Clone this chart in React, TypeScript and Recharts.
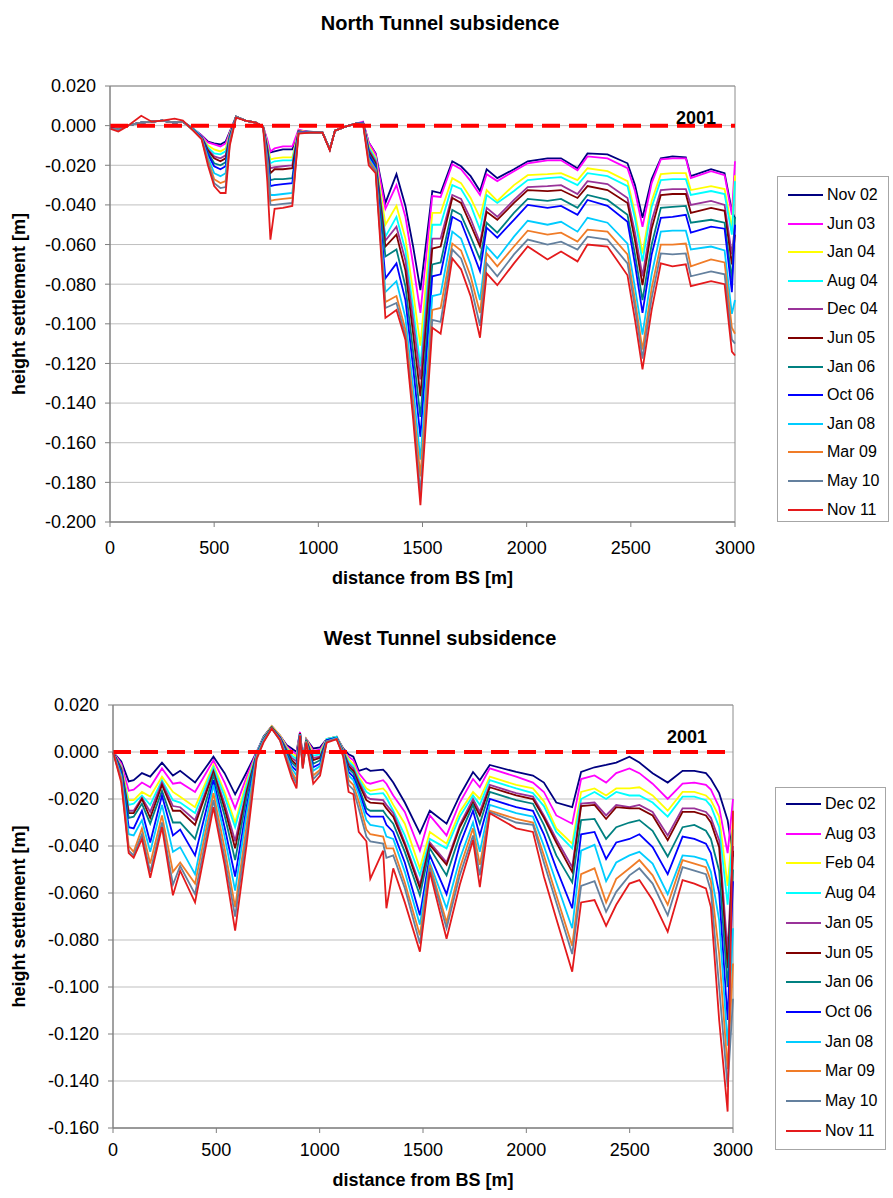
import {
  LineChart, Line, XAxis, YAxis, CartesianGrid, ReferenceLine, ReferenceArea,
} from "recharts";

const FONT = '"Liberation Sans", Arial, sans-serif';

// distance from BS [m]
const X_TICKS = [0, 500, 1000, 1500, 2000, 2500, 3000];
const NORTH_Y_TICKS = [0.02, 0, -0.02, -0.04, -0.06, -0.08, -0.1, -0.12, -0.14, -0.16, -0.18, -0.2];
const WEST_Y_TICKS = [0.02, 0, -0.02, -0.04, -0.06, -0.08, -0.1, -0.12, -0.14, -0.16];

const NORTH_DISTANCE = [0, 40, 80, 150, 200, 250, 310, 350, 400, 440, 470, 500, 530, 555, 575, 605, 650, 700, 735, 755, 770, 790, 830, 875, 905, 960, 1020, 1055, 1080, 1130, 1180, 1215, 1242, 1275, 1322, 1375, 1418, 1455, 1490, 1547, 1587, 1643, 1685, 1731, 1776, 1808, 1859, 1939, 2005, 2100, 2165, 2244, 2292, 2388, 2484, 2520, 2556, 2600, 2644, 2700, 2764, 2788, 2885, 2950, 2985, 3000];

// north tunnel settlement, mm
const N_NOV02 = [-1, -1.5, 0, 1.5, 2, 2.5, 1.5, 2, -1.5, -5, -8, -9, -9.5, -8, -3, 4.5, 2.5, 1.5, -0.5, -8, -13.5, -13, -12, -12, -2.5, -3, -3.5, -12, -2.5, -0.5, 1, 1.5, -8.5, -14, -39, -24.5, -40.5, -61, -83, -33, -34, -18, -20.5, -25.5, -33, -22, -26.5, -22, -18, -16.5, -16.5, -21.5, -14, -14.5, -19, -30, -46.5, -27, -16.5, -15.5, -16, -25.5, -22, -24, -43, -47];
const N_JUN03 = [-1, -1.5, 0, 1.5, 2, 2.5, 1.5, 2, -1.5, -5, -8.5, -9.5, -10.5, -9, -3.5, 4.5, 2.5, 1.5, -0.5, -7, -13, -11.5, -10.5, -10.5, -2, -3.5, -3.5, -12, -2.5, -0.5, 1, 2, -8.5, -14.5, -42, -30, -46, -70, -94.5, -35.5, -36, -19.5, -22, -28, -35, -24.5, -28, -23, -19, -17.5, -17.5, -22.5, -15.5, -16.5, -21.5, -33, -51, -29, -17, -16.5, -16.5, -26.5, -23, -25, -45, -18];
const N_JAN04 = [-1, -1.5, 0, 1.5, 2, 2.5, 1.5, 2, -1.5, -5.5, -10, -12, -13, -11.5, -4, 4.5, 2.5, 1.5, -0.5, -9, -17, -16.5, -16, -16, -2.5, -3.5, -3.5, -12, -2.5, -0.5, 1, 1.5, -10, -16, -50, -40.5, -57, -84, -111, -44, -44, -26.5, -29, -36.5, -46.5, -32.5, -38, -30, -25, -24.5, -24, -27.5, -21.5, -23, -28, -44, -64.5, -38, -24.5, -24, -24, -32.5, -30.5, -32, -52, -25];
const N_AUG04 = [-1, -2, 0, 1.5, 2, 2.5, 1.5, 2, -1.5, -5.5, -11, -14, -14.5, -13, -4.5, 4.5, 2.5, 1.5, -0.5, -10, -19, -18, -17.5, -17.5, -3, -3.5, -3.5, -12, -2.5, -0.5, 1, 1.5, -11, -17, -56, -46, -63, -92, -121.5, -50, -50, -30, -32, -40, -52.5, -35, -39, -33, -27.5, -26.5, -26, -30, -24, -25.5, -30.5, -47, -68.5, -41, -27.5, -27, -27, -35, -33, -34.5, -55, -28];
const N_DEC04 = [-1, -1.5, 0, 1.5, 2, 2.5, 1.5, 2, -2, -5.5, -12, -15.5, -16.5, -15, -5, 4.5, 2.5, 1.5, -0.5, -11, -21.5, -21, -20.5, -20, -3, -3.5, -3.5, -12, -2.5, -0.5, 1, 1.5, -12, -18, -58, -51, -68, -98, -128, -57, -57, -35, -37, -47, -59, -41.5, -46, -37.5, -31, -30.5, -30, -34.5, -28, -29.5, -36.5, -54, -76, -48, -32.5, -32, -32, -40, -38, -40, -65, -50];
const N_JUN05 = [-1, -2, 0, 1.5, 2, 2.5, 1.5, 2, -2, -6, -12.5, -16.5, -18, -16.5, -5.5, 4.5, 2.5, 1.5, -0.5, -12, -24, -22, -22, -21.5, -3, -3.5, -3.5, -12, -2.5, -0.5, 1, 1.5, -13, -19, -61, -55, -73, -105, -136.5, -62, -61, -36.5, -39, -50, -61, -43.5, -47.5, -39, -32.5, -33, -32.5, -36.5, -30.5, -32.5, -39, -58, -80.5, -52, -35, -34.5, -34.5, -44, -41.5, -43, -70, -55];
const N_JAN06 = [-1, -2, 0, 1.5, 2, 2.5, 1.5, 2, -2, -6, -13.5, -19, -20, -18.5, -6, 4.5, 2.5, 1.5, -1, -14, -27.5, -27, -27, -26.5, -3.5, -3.5, -3.5, -12, -2.5, -0.5, 1, 1.5, -14, -20, -66, -62.5, -81, -114, -147, -70, -69, -42.5, -45, -56, -67.5, -49, -54, -44, -37, -38, -37, -41.5, -35, -37.5, -45, -65, -88, -60, -41.5, -41, -40.5, -49, -47.5, -49, -78, -46];
const N_OCT06 = [-1, -2, 0, 1.5, 2, 2.5, 1.5, 2, -2, -6, -14.5, -20.5, -22, -20.5, -6.5, 4.5, 2.5, 1.5, -1, -15, -30.5, -30, -29.5, -29, -3, -3.5, -3.5, -12, -2.5, -0.5, 1, 1.5, -15, -21, -77, -69.5, -88, -122, -157, -76, -75, -46, -48.5, -61, -73.5, -51.5, -56.5, -47.5, -40, -41.5, -40.5, -45, -37.5, -40.5, -48.5, -70, -94.5, -65, -46.5, -46, -45, -54, -51, -52, -84, -50];
const N_JAN08 = [-1.5, -2, 0, 1.5, 2, 2.5, 1.5, 2, -2, -6.5, -16, -24, -25.5, -24, -7, 4.5, 2.5, 1.5, -1, -17, -35, -35, -34.5, -34, -3.5, -3.5, -3.5, -12, -2.5, -0.5, 1, 1, -16.5, -22, -84, -78.5, -97, -132, -168.5, -86, -85, -53.5, -57, -70, -88, -61, -67, -56, -48, -50, -48.5, -53.5, -46.5, -49, -59.5, -82, -105.5, -75, -53.5, -53, -53, -62.5, -61, -63, -95, -88];
const N_MAR09 = [-1.5, -2, 0, 1.5, 2, 2.5, 1.5, 2, -2.5, -6.5, -17.5, -27, -29, -28, -8, 4.5, 2.5, 1.5, -1, -18, -38, -37.5, -37, -36.5, -3.5, -3.5, -3.5, -12, -2.5, -0.5, 1, 1, -17.5, -22.5, -89, -86, -103, -139, -177, -93, -92, -59.5, -63, -76, -94.5, -64.5, -71, -61, -53, -55, -54, -58.5, -52.5, -53.5, -65, -88, -113, -82, -60, -60, -59.5, -71, -67.5, -69, -102, -105];
const N_MAY10 = [-1.5, -2, 0, 1.5, 2, 2.5, 1.5, 2, -2.5, -6.5, -18.5, -29, -31.5, -31, -9, 4.5, 2.5, 1.5, -1, -19, -40, -40, -39.5, -39, -3.5, -3.5, -3.5, -12, -2.5, -0.5, 1, 1, -18.5, -23, -92, -89.5, -106, -144, -185.5, -98, -99, -62.5, -67, -80.5, -101, -69.5, -76, -65, -57.5, -60, -58.5, -62.5, -56, -57.5, -69.5, -92, -117.5, -87, -64.5, -65, -64.5, -76, -73.5, -75, -108, -110];
const N_NOV11 = [-1.5, -3, -0.5, 5, 2, 2.5, 3.5, 2.5, -2.5, -7, -20, -30.5, -34, -34, -10, 4, 2.5, 1.5, -1, -28, -57.5, -42, -41.5, -40.5, -4, -3.5, -3.5, -12.5, -2.5, -0.5, 1, 0.5, -20, -24, -97, -93, -108, -148, -191.5, -102, -105, -67, -72.5, -86, -107, -74.5, -80.5, -69.5, -61, -67.5, -63.5, -68.5, -60, -61, -75.5, -98, -123, -93, -69.5, -71, -70, -81, -78.5, -80, -114, -116];

const WEST_DISTANCE = [0, 40, 76, 100, 140, 180, 237, 290, 325, 397, 486, 540, 591, 647, 695, 728, 768, 808, 840, 865, 888, 905, 918, 935, 969, 1002, 1034, 1082, 1114, 1140, 1163, 1189, 1226, 1245, 1307, 1323, 1356, 1412, 1485, 1533, 1614, 1678, 1742, 1775, 1823, 1951, 2032, 2085, 2145, 2222, 2265, 2330, 2386, 2435, 2499, 2547, 2611, 2684, 2756, 2813, 2869, 2893, 2933, 2974, 3000];

// west tunnel settlement, mm
const W_DEC02 = [0, -4, -12.5, -12, -9, -10.5, -4.5, -10, -8, -13, -2, -9, -18, -8.5, 0, 6.5, 11, 7, 3, 1.5, 0, 8.5, -2.5, 5.5, 1.5, 2, 5.5, 6.5, 1.5, -1, -2, -8, -7, -8, -7.5, -9, -13, -21.5, -34.5, -25, -30.5, -18.5, -8.5, -12, -5.5, -8.5, -10, -13, -21.5, -23.5, -8.5, -6.5, -5.5, -4.5, -2, -4.5, -9, -13, -8, -8, -9, -11.5, -17.5, -29, -44.5];
const W_AUG03 = [0, -5, -16.5, -16, -13, -15, -7, -13.5, -13, -17, -3.5, -13, -24, -10.5, 0, 6, 11, 7, 2.5, 0.5, -1, 8.5, -3, 5.5, 0.5, 1, 5.5, 6.5, 1, -2, -3.5, -9, -13, -13.5, -12, -13.5, -18.5, -25.5, -42, -27, -35.5, -21.5, -11.5, -15, -7, -10.5, -13, -17, -27, -30.5, -11.5, -10, -13, -9, -7, -9, -13.5, -20, -13.5, -13, -14, -16, -23.5, -43, -20];
const W_FEB04 = [0, -6, -20.5, -20.5, -17, -19, -10.5, -17, -19, -23.5, -5.5, -17, -30, -12.5, -0.5, 6, 11, 7, 2, -0.5, -2, 8, -3.5, 5.5, -0.5, 0, 5.5, 6.5, 1, -3, -5, -10.5, -15.5, -16.5, -15.5, -17, -22.5, -30.5, -49.5, -34, -39, -25.5, -17, -20, -10.5, -14, -15.5, -21, -32.5, -39, -17, -15.5, -18.5, -15.5, -15.5, -15, -18.5, -25, -17, -17, -18.5, -20.5, -27.5, -57, -30];
const W_AUG04 = [0, -6.5, -22.5, -22, -18.5, -22.5, -12, -20.5, -21.5, -26, -6.5, -19, -32, -14, -0.5, 6, 10.5, 6.5, 1.5, -1.5, -3, 8, -4, 5, -1.5, -1, 5.5, 6.5, 0.5, -4, -6, -11.5, -17, -18, -17.5, -19.5, -25, -35.5, -52.5, -37, -41, -27.5, -18.5, -22.5, -12, -15.5, -17.5, -23, -34, -41, -20, -17, -20, -17, -18.5, -18.5, -21.5, -27.5, -19, -19, -20.5, -23, -32, -65, -33];
const W_JAN05 = [0, -7, -25, -25, -19.5, -25.5, -13, -23, -23.5, -29, -8, -22, -38, -16, -1, 5.5, 10.5, 6.5, 1, -2.5, -4, 8, -4, 5, -2.5, -2, 5, 6, 0.5, -5, -7, -12.5, -19, -20, -20.5, -22.5, -26, -38.5, -56.5, -38.5, -47, -31, -20, -25.5, -14, -17.5, -19, -27, -37, -49, -22, -21.5, -27, -22.5, -23.5, -22.5, -25.5, -35.5, -24, -24, -25.5, -28, -37.5, -85, -40];
const W_JUN05 = [0, -7.5, -26, -26, -20, -28, -14, -25, -25, -31, -8.5, -24, -41, -17, -1, 5.5, 10.5, 6, 0.5, -3.5, -5.5, 8, -4.5, 5, -3.5, -2.5, 5, 6, 0, -6, -8, -13.5, -20.5, -21.5, -22, -24, -27.5, -39.5, -58, -39.5, -48, -32, -21.5, -27, -15, -18.5, -20, -28, -38.5, -51, -23, -22.5, -28.5, -23.5, -24, -24, -27, -37.5, -25.5, -25.5, -27, -30, -40.5, -92, -42];
const W_JAN06 = [0, -8, -28, -27.5, -22, -30.5, -16.5, -30, -30, -37, -10, -27, -46, -19, -1, 5, 10.5, 6, 0, -4.5, -6.5, 7.5, -5, 5, -5, -3.5, 5, 6, 0, -7, -9, -15, -24, -25, -25, -27, -30.5, -42.5, -61, -41, -52.5, -35.5, -22.5, -30.5, -17, -20.5, -22, -31, -44, -55.5, -29, -28.5, -37, -32, -30, -29, -33.5, -44.5, -32, -31, -33.5, -37, -50.5, -100, -50];
const W_OCT06 = [0, -9, -32, -32.5, -25, -38.5, -18.5, -35.5, -33, -44, -12, -32, -53, -23, -1.5, 5, 10, 6, -1, -6, -8, 7.5, -5.5, 4.5, -6.5, -5, 5, 6, -0.5, -8.5, -10.5, -16.5, -26, -27.5, -27.5, -31, -34, -47, -69.5, -44, -60.5, -39.5, -25, -35.5, -20, -23.5, -25, -35, -49.5, -66.5, -35, -34, -45.5, -38.5, -37, -35, -40.5, -52, -36, -37, -39, -43, -60, -114, -55];
const W_JAN08 = [0, -10, -35, -35.5, -29, -42.5, -22.5, -42.5, -40.5, -52, -14, -36, -59, -26, -1.5, 5, 10, 5.5, -1.5, -7, -10, 7.5, -6, 4.5, -8, -6, 4.5, 6, -0.5, -10, -12, -18, -29, -31, -32, -36, -37, -51, -73.5, -47, -66.5, -45.5, -30, -42.5, -22.5, -26, -27.5, -40, -55.5, -75, -42, -39.5, -55, -47, -44, -42.5, -47.5, -60.5, -44, -44.5, -46, -51, -71.5, -125, -75];
const W_MAR09 = [0, -11, -40, -42.5, -32.5, -47.5, -27, -51, -47, -56, -17.5, -41, -66, -31, -2, 4.5, 10, 5.5, -2.5, -8.5, -12, 7, -6.5, 4.5, -10, -7.5, 4.5, 5.5, -1, -12, -14, -21, -33, -35, -36, -41, -41, -55.5, -78, -48, -72.5, -49.5, -32.5, -48, -25, -28.5, -30, -44, -61, -82.5, -52, -49.5, -64, -54, -49.5, -46, -52.5, -65, -46, -47.5, -49, -55, -86, -135, -90];
const W_MAY10 = [0, -12, -42, -44, -35, -51, -30, -56.5, -48.5, -60.5, -20.5, -45, -70, -35, -2.5, 4.5, 10, 5, -3, -9.5, -13.5, 7, -7, 4, -11.5, -8.5, 4.5, 5.5, -1.5, -14, -16, -24, -36, -38, -39, -45, -44, -58, -81.5, -49.5, -75, -52.5, -35.5, -52.5, -25.5, -30, -31, -47, -64, -86, -57, -55, -68, -59.5, -52.5, -49.5, -56, -69.5, -49, -50.5, -52, -59, -100, -142.5, -105];
const W_NOV11 = [0, -13, -43, -45, -37, -53.5, -32, -61, -50.5, -64, -23.5, -48, -76, -39, -3, 4, 10, 5, -4, -11, -15.5, 7, -7, 4, -13.5, -10, 4, 5.5, -2, -17, -18, -34, -38, -54, -42, -66.5, -49.5, -64, -85, -51, -79.5, -56.5, -37.5, -57.5, -26, -32.5, -34, -53, -71, -93.5, -64, -63, -74, -65, -56, -54.5, -63, -76.5, -54.5, -56, -58, -66, -114, -153, -25];

const COLORS = [
  "#000080", "#FF00FF", "#FFFF00", "#00FFFF", "#993399", "#800000",
  "#008080", "#0000FF", "#00CCFF", "#F07C28", "#64809E", "#E41A1C",
];

type Series = { key: string; name: string; values: number[] };

const NORTH_SERIES: Series[] = [
  { key: "s1", name: "Nov 02", values: N_NOV02 },
  { key: "s2", name: "Jun 03", values: N_JUN03 },
  { key: "s3", name: "Jan 04", values: N_JAN04 },
  { key: "s4", name: "Aug 04", values: N_AUG04 },
  { key: "s5", name: "Dec 04", values: N_DEC04 },
  { key: "s6", name: "Jun 05", values: N_JUN05 },
  { key: "s7", name: "Jan 06", values: N_JAN06 },
  { key: "s8", name: "Oct 06", values: N_OCT06 },
  { key: "s9", name: "Jan 08", values: N_JAN08 },
  { key: "s10", name: "Mar 09", values: N_MAR09 },
  { key: "s11", name: "May 10", values: N_MAY10 },
  { key: "s12", name: "Nov 11", values: N_NOV11 },
];

const WEST_SERIES: Series[] = [
  { key: "s1", name: "Dec 02", values: W_DEC02 },
  { key: "s2", name: "Aug 03", values: W_AUG03 },
  { key: "s3", name: "Feb 04", values: W_FEB04 },
  { key: "s4", name: "Aug 04", values: W_AUG04 },
  { key: "s5", name: "Jan 05", values: W_JAN05 },
  { key: "s6", name: "Jun 05", values: W_JUN05 },
  { key: "s7", name: "Jan 06", values: W_JAN06 },
  { key: "s8", name: "Oct 06", values: W_OCT06 },
  { key: "s9", name: "Jan 08", values: W_JAN08 },
  { key: "s10", name: "Mar 09", values: W_MAR09 },
  { key: "s11", name: "May 10", values: W_MAY10 },
  { key: "s12", name: "Nov 11", values: W_NOV11 },
];

const CHART_W = 893;
const CHART_H = 600;

interface PanelProps {
  title: string;
  top: number;          // page y of the chart box
  titleY: number;       // page y of title centre
  distance: number[];
  series: Series[];
  yTicks: number[];
  plot: { left: number; right: number; top: number; bottom: number }; // chart-local
  tickMargin: number;
  xTitleY: number;      // chart-local centre
  yearRight: number;
  yearLift: number;
  legend: { left: number; top: number; width: number; height: number; first: number; step: number };
}

function LegendBox({ series, legend, top }: { series: Series[]; legend: PanelProps["legend"]; top: number }) {
  return (
    <div
      style={{
        position: "absolute", left: legend.left, top: top + legend.top,
        width: legend.width, height: legend.height,
        border: "1px solid #a6a6a6", background: "#fff", boxSizing: "border-box",
      }}
    >
      {series.map((s, i) => (
        <div
          key={s.key}
          style={{
            position: "absolute", left: 10, top: legend.first + i * legend.step - 10,
            height: 20, display: "flex", alignItems: "center",
            fontFamily: FONT, fontSize: 16, color: "#000", whiteSpace: "nowrap",
          }}
        >
          <span style={{ display: "inline-block", width: 35, height: 2, background: COLORS[i], marginRight: 4 }} />
          {s.name}
        </div>
      ))}
    </div>
  );
}

function Panel(p: PanelProps) {
  const data = p.distance.map((d, i) => {
    const row: Record<string, number> = { distance: d };
    p.series.forEach((s) => { row[s.key] = s.values[i] / 1000; });
    return row;
  });
  const yMax = p.yTicks[0];
  const yMin = p.yTicks[p.yTicks.length - 1];

  const yTitle = (props: any) => {
    const vb = props.viewBox ?? { y: p.plot.top, height: p.plot.bottom - p.plot.top };
    const cx = 19;
    const cy = vb.y + vb.height / 2;
    return (
      <text x={cx} y={cy} transform={`rotate(-90 ${cx} ${cy})`} textAnchor="middle"
        dominantBaseline="central" fontFamily={FONT} fontSize={18} fontWeight="bold" fill="#000">
        height settlement [m]
      </text>
    );
  };

  const xTitle = () => (
    <text x={(p.plot.left + p.plot.right) / 2} y={p.xTitleY} textAnchor="middle"
      dominantBaseline="central" fontFamily={FONT} fontSize={18} fontWeight="bold" fill="#000">
      distance from BS [m]
    </text>
  );

  const yearLabel = (props: any) => {
    const vb = props.viewBox ?? { x: p.plot.left, y: 0, width: p.plot.right - p.plot.left };
    return (
      <text x={vb.x + vb.width - p.yearRight} y={vb.y - p.yearLift} textAnchor="end"
        fontFamily={FONT} fontSize={18} fontWeight="bold" fill="#000">
        2001
      </text>
    );
  };

  return (
    <>
      <div
        style={{
          position: "absolute", left: 240, width: 400, top: p.titleY - 12, height: 24,
          lineHeight: "24px", textAlign: "center", fontFamily: FONT, fontSize: 20,
          fontWeight: "bold", color: "#000",
        }}
      >
        {p.title}
      </div>
      <div style={{ position: "absolute", left: 0, top: p.top }}>
        <LineChart
          width={CHART_W}
          height={CHART_H}
          data={data}
          margin={{ top: p.plot.top, right: CHART_W - p.plot.right, bottom: 0, left: 0 }}
        >
          <CartesianGrid vertical={false} stroke="#bfbfbf" />
          <ReferenceArea x1={0} x2={3000} y1={yMin} y2={yMax} fill="none" fillOpacity={0}
            stroke="#8c8c8c" strokeWidth={1} />
          <XAxis
            dataKey="distance" type="number" domain={[0, 3000]} ticks={X_TICKS}
            height={CHART_H - p.plot.bottom} tickSize={5} tickMargin={p.tickMargin}
            stroke="#7f7f7f" tick={{ fill: "#000", fontSize: 18, fontFamily: FONT }}
            label={xTitle}
          />
          <YAxis
            type="number" domain={[yMin, yMax]} ticks={p.yTicks} width={p.plot.left}
            allowDataOverflow tickSize={5} tickMargin={9} stroke="#7f7f7f"
            tickFormatter={(v: number) => v.toFixed(3)}
            tick={{ fill: "#000", fontSize: 18, fontFamily: FONT }}
            label={yTitle}
          />
          {p.series.map((s, i) => (
            <Line key={s.key} dataKey={s.key} name={s.name} type="linear" stroke={COLORS[i]}
              strokeWidth={1.8} dot={false} activeDot={false} isAnimationActive={false} />
          ))}
          <ReferenceLine y={0} stroke="#ff0000" strokeWidth={4} strokeDasharray="18 9"
            label={yearLabel} />
        </LineChart>
      </div>
      <LegendBox series={p.series} legend={p.legend} top={p.top} />
    </>
  );
}

export default function App() {
  return (
    <div style={{ position: "absolute", left: 0, top: 0, width: 893, height: 1198, background: "#fff" }}>
      <Panel
        title="North Tunnel subsidence"
        top={0}
        titleY={23}
        distance={NORTH_DISTANCE}
        series={NORTH_SERIES}
        yTicks={NORTH_Y_TICKS}
        plot={{ left: 110, right: 735, top: 86, bottom: 522 }}
        tickMargin={14}
        xTitleY={578}
        yearRight={19}
        yearLift={2}
        legend={{ left: 777, top: 176, width: 112, height: 346, first: 18, step: 28.6 }}
      />
      <Panel
        title="West Tunnel subsidence"
        top={610}
        titleY={638 - 610 + 610}
        distance={WEST_DISTANCE}
        series={WEST_SERIES}
        yTicks={WEST_Y_TICKS}
        plot={{ left: 113, right: 733, top: 95, bottom: 518 }}
        tickMargin={10}
        xTitleY={570}
        yearRight={26}
        yearLift={9}
        legend={{ left: 775, top: 177, width: 111, height: 363, first: 16, step: 29.7 }}
      />
    </div>
  );
}
